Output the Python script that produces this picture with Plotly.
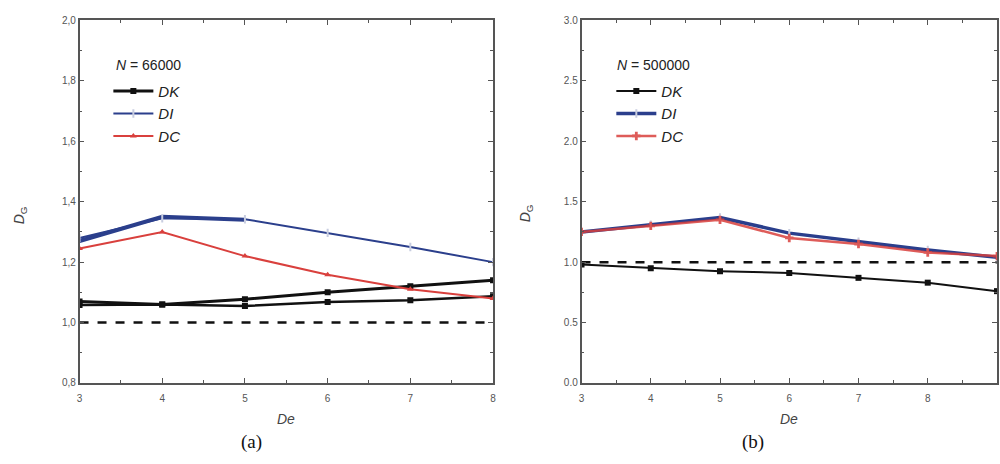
import plotly.graph_objects as go

# ---------------- data ----------------
de_a = [3, 4, 5, 6, 7, 8]
dk_a_run1 = [1.07, 1.06, 1.077, 1.10, 1.12, 1.14]
dk_a_run2 = [1.058, 1.06, 1.055, 1.068, 1.074, 1.087]
di_a = [1.28, 1.345, 1.342, 1.297, 1.25, 1.20]
de_a_overlap = [3, 4, 5]
di_a_run2 = [1.27, 1.35, 1.34]
dc_a = [1.245, 1.30, 1.22, 1.158, 1.11, 1.08]

de_b = [3, 4, 5, 6, 7, 8, 9]
dk_b = [0.98, 0.95, 0.925, 0.91, 0.87, 0.83, 0.76]
di_b = [1.25, 1.31, 1.37, 1.24, 1.17, 1.10, 1.04]
dc_b = [1.25, 1.30, 1.35, 1.20, 1.15, 1.08, 1.05]

ref_level = 1.0

yticks_a = [0.8, 1.0, 1.2, 1.4, 1.6, 1.8, 2.0]
yticklabels_a = ["0,8", "1,0", "1,2", "1,4", "1,6", "1,8", "2,0"]
yticks_b = [0.0, 0.5, 1.0, 1.5, 2.0, 2.5, 3.0]
yticklabels_b = ["0.0", "0.5", "1.0", "1.5", "2.0", "2.5", "3.0"]

BLACK = "#111111"
BLUE = "#2b3f8c"
RED = "#d9403d"
SANS = "Liberation Sans, Arial, sans-serif"

fig = go.Figure()

# ---- panel (a) ----
fig.add_trace(go.Scatter(x=de_a, y=[ref_level] * len(de_a), mode="lines",
                         line=dict(color=BLACK, width=2.5, dash="dash"),
                         showlegend=False, xaxis="x", yaxis="y", hoverinfo="skip"))
fig.add_trace(go.Scatter(x=de_a, y=dk_a_run2, mode="lines+markers",
                         line=dict(color=BLACK, width=2.5),
                         marker=dict(symbol="square", size=6, color=BLACK),
                         showlegend=False, xaxis="x", yaxis="y"))
fig.add_trace(go.Scatter(x=de_a, y=dk_a_run1, mode="lines+markers", name="<i>DK</i>",
                         line=dict(color=BLACK, width=3),
                         marker=dict(symbol="square", size=6, color=BLACK),
                         xaxis="x", yaxis="y", legend="legend"))
fig.add_trace(go.Scatter(x=de_a_overlap, y=di_a_run2, mode="lines",
                         line=dict(color=BLUE, width=4),
                         showlegend=False, xaxis="x", yaxis="y"))
fig.add_trace(go.Scatter(x=de_a, y=di_a, mode="lines+markers", name="<i>DI</i>",
                         line=dict(color=BLUE, width=2),
                         marker=dict(symbol="line-ns", size=6, color="#c8cde0",
                                     line=dict(color="#c8cde0", width=2)),
                         xaxis="x", yaxis="y", legend="legend"))
fig.add_trace(go.Scatter(x=de_a, y=dc_a, mode="lines+markers", name="<i>DC</i>",
                         line=dict(color=RED, width=2),
                         marker=dict(symbol="triangle-up", size=6, color=RED),
                         xaxis="x", yaxis="y", legend="legend"))

# ---- panel (b) ----
fig.add_trace(go.Scatter(x=de_b, y=[ref_level] * len(de_b), mode="lines",
                         line=dict(color=BLACK, width=2.5, dash="dash"),
                         showlegend=False, xaxis="x2", yaxis="y2", hoverinfo="skip"))
fig.add_trace(go.Scatter(x=de_b, y=dk_b, mode="lines+markers", name="<i>DK</i>",
                         line=dict(color=BLACK, width=2),
                         marker=dict(symbol="square", size=6, color=BLACK),
                         xaxis="x2", yaxis="y2", legend="legend2"))
fig.add_trace(go.Scatter(x=de_b, y=di_b, mode="lines+markers", name="<i>DI</i>",
                         line=dict(color=BLUE, width=3.5),
                         marker=dict(symbol="line-ns", size=6, color="#c8cde0",
                                     line=dict(color="#c8cde0", width=2)),
                         xaxis="x2", yaxis="y2", legend="legend2"))
fig.add_trace(go.Scatter(x=de_b, y=dc_b, mode="lines+markers", name="<i>DC</i>",
                         line=dict(color=RED, width=2.5),
                         marker=dict(symbol="cross", size=7, color=RED),
                         opacity=0.85,
                         xaxis="x2", yaxis="y2", legend="legend2"))

axis_common = dict(
    showline=True, linecolor="#555555", linewidth=1.5, mirror="allticks",
    ticks="inside", ticklen=5, tickwidth=1.2, tickcolor="#555555",
    showgrid=False, zeroline=False,
    tickfont=dict(family=SANS, size=10, color="#555555"),
)
minor_x = dict(ticks="inside", ticklen=3, tickwidth=1, tickcolor="#555555", dtick=0.5, showgrid=False)

fig.update_layout(
    width=1000, height=464,
    margin=dict(l=0, r=0, t=0, b=0),
    paper_bgcolor="white", plot_bgcolor="white",
    xaxis=dict(domain=[0.077, 0.493], range=[3, 8], dtick=1, anchor="y",
               minor=minor_x, ticklabelstandoff=5, **axis_common),
    yaxis=dict(domain=[0.166, 0.968], range=[0.8, 2.0], tickvals=yticks_a,
               ticktext=yticklabels_a, anchor="x",
               minor=dict(ticks="inside", ticklen=3, tickwidth=1, tickcolor="#555555",
                          dtick=0.1, showgrid=False),
               **axis_common),
    xaxis2=dict(domain=[0.582, 1.0], range=[3, 9], dtick=1, anchor="y2",
                minor=minor_x, ticklabelstandoff=5, **axis_common),
    yaxis2=dict(domain=[0.166, 0.968], range=[0.0, 3.0], tickvals=yticks_b,
                ticktext=yticklabels_b, anchor="x2",
                minor=dict(ticks="inside", ticklen=3, tickwidth=1, tickcolor="#555555",
                           dtick=0.25, showgrid=False),
                **axis_common),
    legend=dict(x=0.106, y=0.848, xanchor="left", yanchor="top",
                bgcolor="rgba(0,0,0,0)", tracegroupgap=0, itemwidth=40,
                font=dict(family=SANS, size=15, color="#222222")),
    legend2=dict(x=0.612, y=0.848, xanchor="left", yanchor="top",
                 bgcolor="rgba(0,0,0,0)", tracegroupgap=0, itemwidth=40,
                 font=dict(family=SANS, size=15, color="#222222")),
    showlegend=True,
)

text_font = dict(family=SANS, size=14, color="#222222")
ann = [
    dict(x=0.112, y=61, text="<i>N</i> = 66000", xanchor="left"),
    dict(x=0.616, y=61, text="<i>N</i> = 500000", xanchor="left"),
]
for a in ann:
    fig.add_annotation(x=a["x"], y=1 - a["y"] / 464, xref="paper", yref="paper",
                       text=a["text"], showarrow=False, xanchor=a["xanchor"],
                       yanchor="middle", font=text_font)

# axis titles
for xc, yc, t, ang in [(0.285, 424, "<i>De</i>", 0), (0.791, 424, "<i>De</i>", 0),
                       (0.018, 215, "<i>D</i><sub>G</sub>", -90),
                       (0.527, 213, "<i>D</i><sub>G</sub>", -90)]:
    fig.add_annotation(x=xc, y=1 - yc / 464, xref="paper", yref="paper", text=t,
                       showarrow=False, textangle=ang, xanchor="center", yanchor="middle",
                       font=dict(family=SANS, size=14, color="#444444"))

# panel labels
for xc, t in [(0.250, "(a)"), (0.755, "(b)")]:
    fig.add_annotation(x=xc, y=1 - 448 / 464, xref="paper", yref="paper", text=t,
                       showarrow=False, xanchor="center", yanchor="middle",
                       font=dict(family="Liberation Serif, Times New Roman, serif", size=19,
                                 color="#111111"))

fig.write_html("out.html")
